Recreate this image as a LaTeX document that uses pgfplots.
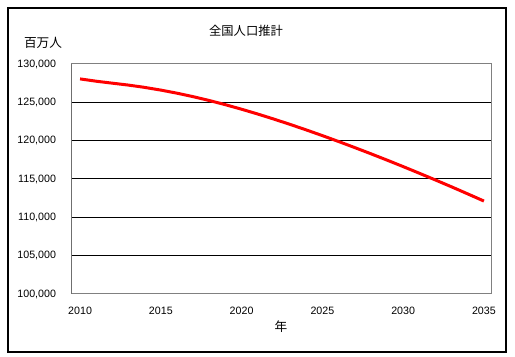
\documentclass[border=0pt]{standalone}
\usepackage{fontspec}
\setmainfont{Noto Sans CJK JP}
\newfontfamily\lib{Liberation Sans}
\usepackage{pgfplots}
\pgfplotsset{compat=1.18}
\pgfplotstableread{
year pop
2010 128057
2011 127753
2012 127498
2013 127247
2014 126949
2015 126597
2016 126193
2017 125739
2018 125236
2019 124689
2020 124100
2021 123474
2022 122813
2023 122122
2024 121403
2025 120659
2026 119891
2027 119102
2028 118293
2029 117465
2030 116618
2031 115752
2032 114870
2033 113975
2034 113055
2035 112124
}\popdata
\begin{document}
\begin{tikzpicture}
\begin{scope}[x=0.75pt,y=0.75pt]
\useasboundingbox (0,0) rectangle (515,357);
\draw[black, line width=0.9pt] (8,5) rectangle (506,349);
\node[font=\fontsize{9.2}{10}\selectfont] at (246,326) {全国人口推計};
\node[font=\fontsize{9.5}{10}\selectfont] at (43,314) {百万人};
\node[font=\fontsize{9.5}{10}\selectfont] at (281,30) {年};
\coordinate (O) at (72,63);
\end{scope}
\begin{axis}[
  at={(O)}, anchor=south west,
  scale only axis, width=315pt, height=172.5pt,
  xmin=2009.5, xmax=2035.5, ymin=100000, ymax=130000,
  xtick={2010,2015,...,2035},
  ytick={100000,105000,...,130000},
  scaled y ticks=false,
  axis line style={draw=gray, line width=0.75pt},
  ymajorgrids, grid style={black, line width=0.75pt},
  tick align=inside, ytick pos=left, major tick length=3pt,
  ytick style={black, line width=0.75pt},
  xtick style={draw=none},
  /pgf/number format/assume math mode=true,
  yticklabel style={font=\lib\fontsize{8}{9}\selectfont, /pgf/number format/fixed, /pgf/number format/1000 sep={,}, xshift=-8.5pt},
  xticklabel style={font=\lib\fontsize{8}{9}\selectfont, /pgf/number format/1000 sep={}, yshift=-6pt},
]
\addplot[red, line width=2.25pt, line join=round, no marks] table[x=year,y=pop] {\popdata};
\draw[black, line width=0.75pt] (rel axis cs:0,0) -- (rel axis cs:0,1);
\end{axis}
\end{tikzpicture}
\end{document}
